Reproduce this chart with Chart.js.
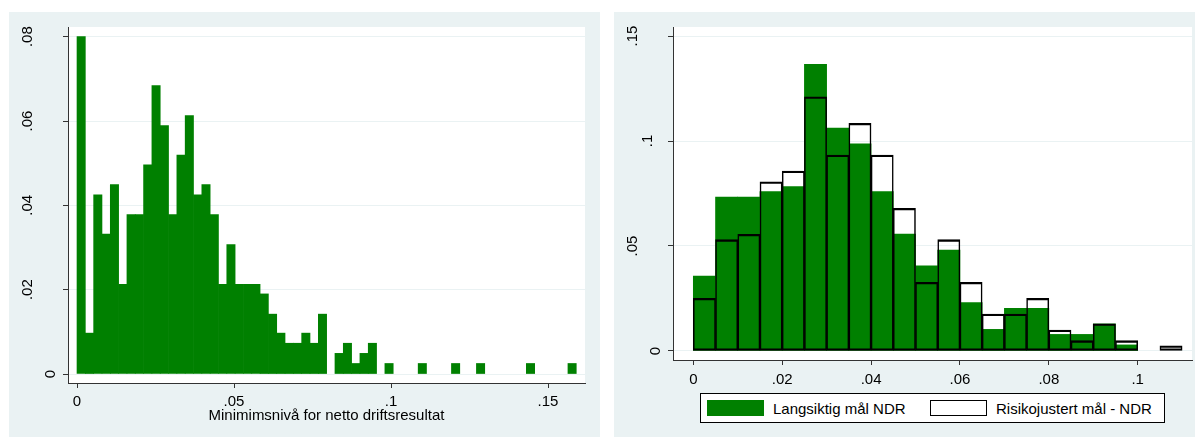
<!DOCTYPE html>
<html>
<head>
<meta charset="utf-8">
<script src="https://cdn.jsdelivr.net/npm/chart.js@4.4.1/dist/chart.umd.min.js"></script>
<style>
  html, body { margin: 0; padding: 0; background: #fff; }
  body { width: 1195px; height: 437px; position: relative; overflow: hidden;
         font-family: 'Liberation Sans', Arial, sans-serif; }
  .panel { position: absolute; top: 12px; height: 425px; background: #eaf2f3; }
  #leftPanel { left: 9px; width: 591px; }
  #rightPanel { left: 614px; width: 581px; }
  #legend { position: absolute; left: 700px; top: 393px; width: 465px; height: 30px;
            box-sizing: border-box; border: 1px solid #000; background: #fff; font-size: 15px; color: #000; }
  #legend .item { position: absolute; top: 0; height: 28px; display: flex; align-items: center; white-space: nowrap; }
  #legend .item:nth-child(1) { left: 6px; }
  #legend .item:nth-child(2) { left: 229px; }
  #legend .swatch { width: 57px; height: 16px; box-sizing: border-box; margin-right: 9px; }
</style>
</head>
<body>
<div class="panel" id="leftPanel"><canvas id="leftChart" width="591" height="425"></canvas></div>
<div class="panel" id="rightPanel"><canvas id="rightChart" width="581" height="425"></canvas></div>
<div id="legend"></div>
<script>
// left: histogram, bin width 0.00265, density per bin
const HIST_BIN = 0.00265;
const HIST_DENSITY = [
  0.0800, 0.0097, 0.0425, 0.0332, 0.0449, 0.0213, 0.0378, 0.0378, 0.0496, 0.0684,
  0.0589, 0.0378, 0.0519, 0.0613, 0.0425, 0.0449, 0.0378, 0.0213, 0.0307, 0.0213,
  0.0213, 0.0213, 0.0190, 0.0142, 0.0097, 0.0073, 0.0073, 0.0097, 0.0073, 0.0142,
  0,      0.0049, 0.0073, 0.0025, 0.0049, 0.0073, 0,      0.0025, 0,      0,
  0,      0.0025, 0,      0,      0,      0.0025, 0,      0,      0.0025, 0,
  0,      0,      0,      0,      0.0025, 0,      0,      0,      0,      0.0025
];
const X1_TICKS = [0, 0.05, 0.1, 0.15];
const X1_LABELS = ['0', '.05', '.1', '.15'];
const Y1_TICKS = [0, 0.02, 0.04, 0.06, 0.08];
const Y1_LABELS = ['0', '.02', '.04', '.06', '.08'];
const X1_TITLE = 'Minimimsnivå for netto driftsresultat';

// right: two overlaid histograms, bin width 0.005
const NDR_BIN = 0.005;
const NDR_LONG = [0.0357, 0.0733, 0.0733, 0.0759, 0.0783, 0.1365, 0.1062, 0.0986, 0.0759, 0.0557, 0.0406,
                  0.0481, 0.0230, 0.0103, 0.0203, 0.0203, 0.0079, 0.0079, 0.0129, 0.0029, 0, 0];
const NDR_RISK = [0.0251, 0.0530, 0.0556, 0.0806, 0.0857, 0.1210, 0.0933, 0.1084, 0.0933, 0.0679, 0.0327,
                  0.0530, 0.0327, 0.0176, 0.0176, 0.0251, 0.0100, 0.0049, 0.0129, 0.0049, 0, 0.0025];
const SERIES_LABELS = ['Langsiktig mål NDR', 'Risikojustert mål - NDR'];
const X2_TICKS = [0, 0.02, 0.04, 0.06, 0.08, 0.1];
const X2_LABELS = ['0', '.02', '.04', '.06', '.08', '.1'];
const Y2_TICKS = [0, 0.05, 0.1, 0.15];
const Y2_LABELS = ['0', '.05', '.1', '.15'];

const GREEN = '#008000';
const BG = '#eaf2f3';
const AXIS = '#333';
const FONT = "'Liberation Sans', Arial, sans-serif";

Chart.defaults.animation = false;
Chart.defaults.font.family = FONT;
Chart.defaults.font.size = 15;
Chart.defaults.color = '#000';

// bin centres on x; empty bins are left undrawn
function toPoints(values, width) {
  return values.map((v, i) => ({ x: (i + 0.5) * width, y: v === 0 ? null : v }));
}

// white plot region + vertical y labels (stata style)
const stataFrame = {
  id: 'stataFrame',
  beforeDraw(chart) {
    const a = chart.chartArea, ctx = chart.ctx;
    ctx.save();
    ctx.fillStyle = '#fff';
    ctx.fillRect(a.left, a.top, a.right - a.left, a.bottom - a.top);
    ctx.restore();
  },
  afterDraw(chart, args, opts) {
    const ctx = chart.ctx, y = chart.scales.y, left = chart.chartArea.left;
    ctx.save();
    ctx.font = '15px ' + FONT;
    ctx.fillStyle = '#000';
    ctx.textAlign = 'center';
    ctx.textBaseline = 'middle';
    opts.ticks.forEach((v, i) => {
      const label = opts.labels[i];
      const w = ctx.measureText(label).width;
      ctx.save();
      ctx.translate(left - (2 + 1.85 * w), y.getPixelForValue(v));
      ctx.rotate(-Math.PI / 2);
      ctx.fillText(label, 0, 0);
      ctx.restore();
    });
    ctx.restore();
  }
};

function xScale(min, max, ticks, labels, height, pad, title) {
  return {
    type: 'linear', min: min, max: max, offset: false,
    afterBuildTicks: s => { s.ticks = ticks.map(v => ({ value: v })); },
    afterFit: s => { s.height = height; },
    grid: { drawOnChartArea: false, offset: false, tickLength: 5, tickColor: AXIS },
    border: { color: AXIS, width: 1 },
    ticks: { autoSkip: false, maxRotation: 0, padding: pad, color: '#000',
             callback: v => labels[ticks.indexOf(v)] },
    title: title ? { display: true, text: title, color: '#000', padding: { top: 0, bottom: 12 } } : { display: false }
  };
}

function yScale(min, max, ticks) {
  return {
    min: min, max: max,
    afterBuildTicks: s => { s.ticks = ticks.map(v => ({ value: v })); },
    afterFit: s => { s.width = 59; },
    grid: { color: BG, lineWidth: 1, tickLength: 5, tickColor: AXIS },
    border: { color: AXIS, width: 1 },
    ticks: { display: false }
  };
}

new Chart(document.getElementById('leftChart'), {
  type: 'bar',
  data: {
    datasets: [{
      data: toPoints(HIST_DENSITY, HIST_BIN),
      backgroundColor: GREEN,
      borderWidth: 0,
      barPercentage: 1,
      categoryPercentage: 1
    }]
  },
  options: {
    responsive: false,
    layout: { padding: { left: 0, top: 15, right: 15, bottom: 0 } },
    plugins: {
      legend: { display: false },
      tooltip: { enabled: false },
      stataFrame: { ticks: Y1_TICKS, labels: Y1_LABELS }
    },
    scales: {
      x: xScale(-0.00287, 0.16178, X1_TICKS, X1_LABELS, 54, 5, X1_TITLE),
      y: yScale(-0.00213, 0.0823, Y1_TICKS)
    }
  },
  plugins: [stataFrame]
});

new Chart(document.getElementById('rightChart'), {
  type: 'bar',
  data: {
    datasets: [{
      label: SERIES_LABELS[0],
      data: toPoints(NDR_LONG, NDR_BIN),
      backgroundColor: GREEN,
      borderWidth: 0,
      order: 2
    }, {
      label: SERIES_LABELS[1],
      data: toPoints(NDR_RISK, NDR_BIN),
      backgroundColor: 'rgba(0,0,0,0)',
      borderColor: '#000',
      borderWidth: { top: 1.6, bottom: 1.6, left: 0.9, right: 0.9 },
      borderSkipped: false,
      order: 1
    }]
  },
  options: {
    responsive: false,
    grouped: false,
    barPercentage: 1,
    categoryPercentage: 1,
    layout: { padding: { left: 0, top: 15, right: 3, bottom: 0 } },
    plugins: {
      legend: { display: false },
      tooltip: { enabled: false },
      stataFrame: { ticks: Y2_TICKS, labels: Y2_LABELS }
    },
    scales: {
      x: xScale(-0.00457, 0.11222, X2_TICKS, X2_LABELS, 77, 6, null),
      y: yScale(-0.00429, 0.15429, Y2_TICKS)
    }
  },
  plugins: [stataFrame]
});

// legend box under the right panel
const legend = document.getElementById('legend');
const swatchStyles = ['background:' + GREEN, 'background:#fff;border:1.5px solid #000'];
SERIES_LABELS.forEach((label, i) => {
  const item = document.createElement('div');
  item.className = 'item';
  item.innerHTML = '<span class="swatch" style="' + swatchStyles[i] + '"></span><span>' + label + '</span>';
  legend.appendChild(item);
});
</script>
</body>
</html>
